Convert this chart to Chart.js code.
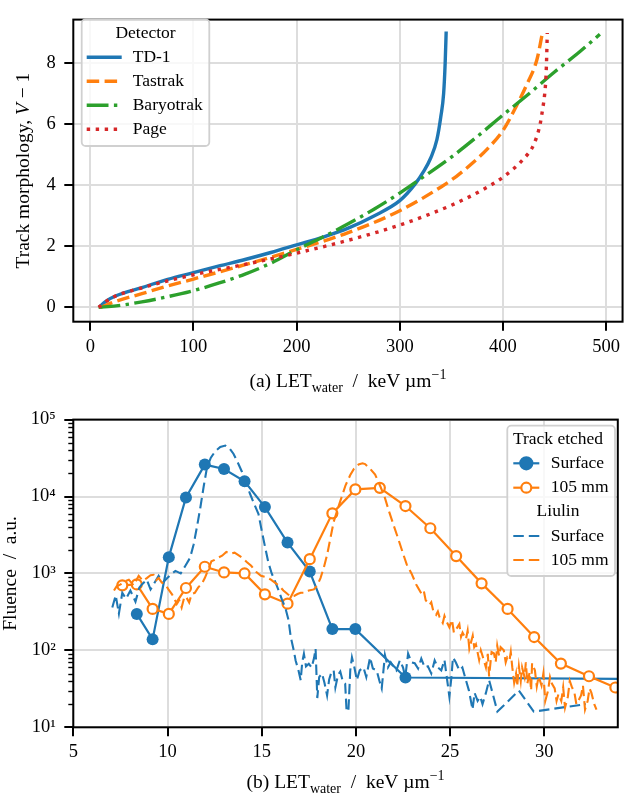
<!DOCTYPE html>
<html>
<head>
<meta charset="utf-8">
<script src="https://cdn.jsdelivr.net/npm/chart.js@4.4.1/dist/chart.umd.min.js"></script>
<style>
    html, body { margin: 0; padding: 0; background: #fff; }
    canvas { display: block; }
</style>
</head>
<body>
<canvas id="grafico_morfologia" width="625" height="400"></canvas>
<canvas id="grafico_fluencia" width="625" height="397"></canvas>
<script>
// ---- (a) Track morphology V-1 vs LET_water (keV/um) ----
const td1Let = [8.5, 15, 25, 50, 75, 100, 125, 150, 175, 200, 225, 250, 275, 300, 315, 323, 330, 336, 340, 342.5, 344, 345];
const td1V = [0, 0.2, 0.38, 0.65, 0.92, 1.14, 1.36, 1.57, 1.8, 2.05, 2.3, 2.6, 3.0, 3.5, 4.05, 4.45, 4.9, 5.5, 6.3, 7.0, 8.0, 9.05];

const tastrakLet = [10, 25, 50, 75, 100, 150, 200, 250, 300, 340, 355, 370, 385, 400, 413, 423, 433, 438];
const tastrakV = [0, 0.2, 0.45, 0.7, 0.93, 1.4, 1.9, 2.45, 3.17, 3.95, 4.3, 4.72, 5.2, 5.8, 6.6, 7.3, 8.13, 8.95];

const baryotrakLet = [8, 25, 50, 75, 100, 125, 150, 175, 200, 225, 250, 275, 300, 325, 350, 375, 400, 425, 450, 475, 494];
const baryotrakV = [0, 0.05, 0.18, 0.35, 0.55, 0.8, 1.09, 1.45, 1.89, 2.3, 2.74, 3.22, 3.75, 4.33, 4.93, 5.6, 6.31, 7.0, 7.72, 8.4, 8.96];

const pageLet = [8, 20, 50, 100, 150, 200, 250, 300, 350, 380, 400, 420, 430, 436, 438.5, 440.5, 441.8, 442.5, 443];
const pageV = [0, 0.3, 0.64, 1.07, 1.41, 1.78, 2.2, 2.7, 3.35, 3.85, 4.27, 4.87, 5.35, 6.0, 6.5, 7.0, 7.6, 8.3, 9.0];

// ---- (b) Fluence (a.u.) vs LET_water ----
// track etched detectors (solid lines with markers)
const etchedSurfaceLet = [8.37, 9.21, 10.07, 10.98, 11.98, 13.0, 14.09, 15.17, 16.37, 17.55, 18.75, 19.97, 22.63, 40];
const etchedSurfaceF = [298, 139, 1630, 9730, 26000, 22800, 15800, 7300, 2520, 1060, 189, 189, 44.4, 41.8];

const etched105Let = [7.6, 8.37, 9.21, 10.07, 10.98, 11.98, 13.0, 14.09, 15.17, 16.37, 17.55, 18.75, 19.97, 21.27, 22.63, 23.95, 25.32, 26.67, 28.05, 29.46, 30.88, 32.37, 33.77];
const etched105F = [700, 721, 346, 298, 647, 1222, 1031, 1000, 535, 405, 1535, 6040, 12370, 12970, 7520, 3870, 1680, 743, 346, 149, 67.3, 46.1, 32.9];

// Liulin spectra (dashed lines)
const liulinSurfaceLet = [7.07, 7.25, 7.42, 7.6, 7.8, 8.03, 8.3, 8.5, 8.64, 8.9, 9.1, 9.26, 9.53, 9.75, 10.0, 10.2, 10.42, 10.7, 10.95, 11.2, 11.39, 11.56, 11.74, 11.92, 12.09, 12.3, 12.53, 12.8, 13.07, 13.3, 13.5, 13.72, 13.95, 14.17, 14.39, 14.6, 14.83, 15.0, 15.18, 15.35, 15.53, 15.7, 15.9, 16.07, 16.25, 16.42, 16.54, 16.7, 16.8, 16.95, 17.07, 17.15, 17.24, 17.35, 17.5, 17.65, 17.78, 17.86, 17.95, 18.05, 18.2, 18.33, 18.47, 18.58, 18.7, 18.82, 18.91, 19.05, 19.17, 19.3, 19.43, 19.5, 19.6, 19.7, 19.79, 19.92, 20.05, 20.2, 20.4, 20.55, 20.75, 20.9, 21.1, 21.25, 21.37, 21.54, 21.7, 21.85, 21.98, 22.15, 22.33, 22.5, 22.62, 22.77, 22.95, 23.12, 23.3, 23.47, 23.65, 23.82, 24.0, 24.18, 24.35, 24.53, 24.7, 24.85, 24.96, 25.07, 25.15, 25.3, 25.49, 25.65, 25.84, 26.0, 26.19, 26.3, 26.46, 26.6, 26.72, 26.9, 27.07, 27.25, 27.51, 28.65, 29.44, 32.2];
const liulinSurfaceF = [360, 520, 300, 560, 470, 600, 430, 650, 720, 830, 620, 720, 930, 760, 880, 980, 1080, 1000, 1260, 1600, 2400, 4000, 7100, 13500, 23500, 32000, 38600, 44000, 46000, 42000, 36000, 28000, 21000, 15000, 10700, 8000, 5900, 3600, 2200, 1400, 1000, 800, 600, 460, 360, 250, 150, 100, 74, 55, 41, 70, 90, 62, 67, 60, 80, 105, 24, 45, 50, 38, 26, 42, 52, 55, 33, 48, 53, 40, 37, 17, 16, 55, 81, 60, 41, 55, 60, 45, 81, 58, 55, 40, 32, 87, 60, 70, 62, 55, 74, 60, 45, 91, 70, 68, 58, 78, 60, 62, 50, 74, 60, 55, 75, 40, 25, 45, 81, 70, 55, 60, 41, 30, 17, 28, 22, 25, 20, 28, 41, 28, 16, 30, 16, 20];

const liulin105Let = [7.16, 7.3, 7.51, 7.7, 7.95, 8.2, 8.47, 8.7, 8.9, 9.1, 9.26, 9.4, 9.53, 9.7, 9.88, 10.05, 10.23, 10.35, 10.49, 10.62, 10.75, 10.9, 11.0, 11.15, 11.28, 11.45, 11.63, 11.8, 11.98, 12.15, 12.33, 12.5, 12.68, 12.9, 13.12, 13.35, 13.56, 13.8, 14.0, 14.22, 14.44, 14.7, 14.96, 15.2, 15.49, 15.7, 15.93, 16.15, 16.37, 16.55, 16.72, 16.9, 17.07, 17.25, 17.5, 17.77, 17.95, 18.12, 18.3, 18.47, 18.65, 18.82, 19.0, 19.17, 19.45, 19.7, 19.9, 20.14, 20.35, 20.49, 20.75, 21.02, 21.3, 21.54, 21.75, 21.98, 22.25, 22.51, 22.7, 22.95, 23.2, 23.47, 23.6, 23.7, 23.91, 24.0, 24.1, 24.26, 24.35, 24.44, 24.61, 24.7, 24.8, 24.96, 25.1, 25.2, 25.31, 25.49, 25.58, 25.66, 25.84, 25.93, 26.02, 26.2, 26.28, 26.37, 26.54, 26.63, 26.72, 26.9, 27.0, 27.07, 27.2, 27.33, 27.42, 27.5, 27.6, 27.68, 27.85, 27.95, 28.03, 28.15, 28.22, 28.3, 28.4, 28.5, 28.56, 28.65, 28.75, 28.82, 28.95, 29.02, 29.1, 29.22, 29.3, 29.35, 29.5, 29.6, 29.7, 29.85, 29.95, 30.05, 30.2, 30.3, 30.4, 30.55, 30.65, 30.75, 30.9, 31.0, 31.1, 31.25, 31.35, 31.45, 31.6, 31.7, 31.8, 31.95, 32.05, 32.16, 32.3, 32.4, 32.5, 32.65, 32.77];
const liulin105F = [600, 680, 720, 780, 830, 700, 930, 800, 870, 950, 960, 820, 870, 760, 720, 620, 540, 480, 400, 450, 360, 500, 490, 420, 540, 560, 660, 720, 870, 1100, 1440, 1500, 1600, 1700, 1900, 1800, 1860, 1700, 1580, 1400, 1260, 1050, 930, 900, 830, 760, 690, 600, 540, 500, 510, 540, 560, 560, 600, 620, 700, 870, 1200, 1740, 2900, 4700, 6500, 8700, 14000, 19000, 23000, 26100, 27000, 26400, 23000, 19300, 13500, 9600, 6500, 4400, 2800, 1790, 1300, 1000, 720, 550, 600, 450, 390, 420, 330, 290, 320, 270, 227, 280, 240, 200, 250, 170, 186, 220, 150, 170, 140, 180, 105, 155, 110, 120, 75, 100, 85, 60, 90, 46, 95, 91, 70, 115, 85, 110, 100, 70, 81, 74, 95, 60, 38, 50, 34, 62, 40, 60, 45, 70, 37, 52, 30, 68, 55, 34, 46, 35, 50, 22, 30, 45, 37, 32, 22, 27, 22, 33, 18, 25, 40, 34, 28, 20, 22, 26, 35, 17, 22, 32, 28, 20, 17];

// log axis: decades that get a label, and multipliers for the minor ticks
const fluenceDecades = [10, 100, 1000, 10000, 100000];
const minorMultipliers = [2, 3, 4, 5, 6, 7, 8, 9];

// ---- estilo ----
const AZUL = '#1f77b4', LARANJA = '#ff7f0e', VERDE = '#2ca02c', VERMELHO = '#d62728';
const FONTE = "'Liberation Serif', 'DejaVu Serif', serif";
const GRADE = '#dddddd';
const SUP = ['\u2070', '\u00b9', '\u00b2', '\u00b3', '\u2074', '\u2075'];

const pares = (xs, ys) => xs.map((x, i) => ({ x: x, y: ys[i] }));

// draws pieces of text (normal / sub / superscript) one after the other
function textoComposto(ctx, partes, x, y, centrado) {
    let total = 0;
    partes.forEach(p => { ctx.font = p.font; total += ctx.measureText(p.t).width; });
    let cx = centrado ? x - total / 2 : x;
    partes.forEach(p => {
        ctx.font = p.font;
        ctx.fillText(p.t, cx, y + (p.dy || 0));
        cx += ctx.measureText(p.t).width;
    });
}

function tituloLet(prefixo) {
    return [
        { t: prefixo + ' LET', font: `19.5px ${FONTE}` },
        { t: 'water', font: `14px ${FONTE}`, dy: 4.5 },
        { t: '  /  keV \u00b5m', font: `19.5px ${FONTE}` },
        { t: '\u22121', font: `14px ${FONTE}`, dy: -8 }
    ];
}

// frame, axis titles, minor ticks and legend
const molduraPlugin = {
    id: 'moldura',
    afterDraw(chart, args, opts) {
        const ctx = chart.ctx;
        const a = chart.chartArea;
        ctx.save();

        // minor ticks on the log axis
        if (opts.minorTicks) {
            const sy = chart.scales.y;
            ctx.strokeStyle = '#000';
            ctx.lineWidth = 1.4;
            fluenceDecades.slice(0, -1).forEach(d => {
                minorMultipliers.forEach(m => {
                    const py = Math.round(sy.getPixelForValue(d * m)) + 0.5;
                    ctx.beginPath();
                    ctx.moveTo(a.left - 5, py);
                    ctx.lineTo(a.left, py);
                    ctx.stroke();
                });
            });
        }

        // frame
        ctx.strokeStyle = '#000';
        ctx.lineWidth = 2;
        ctx.strokeRect(a.left, a.top, a.right - a.left, a.bottom - a.top);

        // axis titles
        ctx.fillStyle = '#000';
        ctx.textBaseline = 'alphabetic';
        textoComposto(ctx, opts.tituloX, (a.left + a.right) / 2, opts.tituloXy, true);
        ctx.save();
        ctx.translate(opts.tituloYx, (a.top + a.bottom) / 2);
        ctx.rotate(-Math.PI / 2);
        textoComposto(ctx, opts.tituloY, 0, 0, true);
        ctx.restore();

        // legend
        const L = opts.legenda;
        const [x1, y1, x2, y2] = L.caixa;
        ctx.beginPath();
        ctx.roundRect(x1, y1, x2 - x1, y2 - y1, 4);
        ctx.fillStyle = 'rgba(255,255,255,0.8)';
        ctx.fill();
        ctx.strokeStyle = '#d0d0d0';
        ctx.lineWidth = 1.8;
        ctx.stroke();

        ctx.font = `17.5px ${FONTE}`;
        ctx.textBaseline = 'middle';
        L.itens.forEach(it => {
            if (it.titulo) {
                ctx.fillStyle = '#000';
                ctx.textAlign = 'center';
                ctx.fillText(it.titulo, L.centroTitulo, it.y);
                return;
            }
            const ds = chart.data.datasets[it.ds];
            ctx.strokeStyle = ds.borderColor;
            ctx.lineWidth = ds.borderWidth;
            ctx.lineCap = 'butt';
            ctx.setLineDash(ds.borderDash || []);
            ctx.beginPath();
            ctx.moveTo(L.linha[0], it.y);
            ctx.lineTo(L.linha[1], it.y);
            ctx.stroke();
            ctx.setLineDash([]);
            if (ds.pointRadius > 0) {
                ctx.beginPath();
                ctx.arc((L.linha[0] + L.linha[1]) / 2, it.y, ds.pointRadius, 0, Math.PI * 2);
                ctx.fillStyle = ds.pointBackgroundColor;
                ctx.fill();
                ctx.lineWidth = ds.pointBorderWidth;
                ctx.strokeStyle = ds.pointBorderColor;
                ctx.stroke();
            }
            ctx.fillStyle = '#000';
            ctx.textAlign = 'left';
            ctx.fillText(it.texto, L.textoX, it.y);
        });
        ctx.restore();
    }
};

const tickFont = { family: FONTE, size: 18.5 };

function curva(xs, ys, cor, tracejado, ordem) {
    return {
        data: pares(xs, ys),
        borderColor: cor,
        borderWidth: 3.4,
        borderDash: tracejado,
        borderCapStyle: 'butt',
        pointRadius: 0,
        cubicInterpolationMode: 'monotone',
        order: ordem
    };
}

// ---------- (a) ----------
new Chart(document.getElementById('grafico_morfologia').getContext('2d'), {
    type: 'line',
    data: {
        datasets: [
            curva(td1Let, td1V, AZUL, [], 4),
            curva(tastrakLet, tastrakV, LARANJA, [12.5, 5.4], 3),
            curva(baryotrakLet, baryotrakV, VERDE, [21.8, 5.4, 3.4, 5.4], 2),
            curva(pageLet, pageV, VERMELHO, [3.4, 5.6], 1)
        ]
    },
    options: {
        responsive: false,
        animation: false,
        devicePixelRatio: 1,
        layout: { padding: { left: 0, right: 2.3, top: 12.3, bottom: 0 } },
        plugins: {
            legend: { display: false },
            tooltip: { enabled: false },
            moldura: {
                tituloX: tituloLet('(a)'),
                tituloXy: 387,
                tituloY: [
                    { t: 'Track morphology, ', font: `19.5px ${FONTE}` },
                    { t: 'V', font: `italic 19.5px ${FONTE}` },
                    { t: ' \u2212 1', font: `19.5px ${FONTE}` }
                ],
                tituloYx: 29,
                legenda: {
                    caixa: [81.7, 19.3, 209.3, 146],
                    centroTitulo: 145.5,
                    linha: [86.7, 121.7],
                    textoX: 132.7,
                    itens: [
                        { titulo: 'Detector', y: 33.3 },
                        { ds: 0, texto: 'TD-1', y: 57.3 },
                        { ds: 1, texto: 'Tastrak', y: 81.2 },
                        { ds: 2, texto: 'Baryotrak', y: 105.3 },
                        { ds: 3, texto: 'Page', y: 129.2 }
                    ]
                }
            }
        },
        scales: {
            x: {
                type: 'linear',
                min: -16.5,
                max: 516,
                afterFit: s => { s.height = 78.3; },
                border: { display: false },
                grid: { color: GRADE, lineWidth: 2, tickColor: '#000', tickWidth: 2, tickLength: 9 },
                ticks: { stepSize: 100, includeBounds: false, color: '#000', font: tickFont, padding: 5, maxRotation: 0 }
            },
            y: {
                type: 'linear',
                min: -0.47,
                max: 9.44,
                afterFit: s => { s.width = 73.3; },
                border: { display: false },
                grid: { color: GRADE, lineWidth: 2, tickColor: '#000', tickWidth: 2, tickLength: 9 },
                ticks: { stepSize: 2, includeBounds: false, color: '#000', font: tickFont, padding: 8.5 }
            }
        }
    },
    plugins: [molduraPlugin]
});

// ---------- (b) ----------
const ehDecada = v => fluenceDecades.includes(v);

new Chart(document.getElementById('grafico_fluencia').getContext('2d'), {
    type: 'line',
    data: {
        datasets: [
            {   // Liulin 105 mm
                data: pares(liulin105Let, liulin105F),
                borderColor: LARANJA, borderWidth: 2.1, borderDash: [10.5, 5], borderCapStyle: 'butt',
                pointRadius: 0, order: 1
            },
            {   // Liulin surface
                data: pares(liulinSurfaceLet, liulinSurfaceF),
                borderColor: AZUL, borderWidth: 2.1, borderDash: [10.5, 5], borderCapStyle: 'butt',
                pointRadius: 0, order: 2
            },
            {   // track etched 105 mm
                data: pares(etched105Let, etched105F),
                borderColor: LARANJA, borderWidth: 2.2,
                pointRadius: 5, pointBackgroundColor: '#fff', pointBorderColor: LARANJA, pointBorderWidth: 2.2,
                order: 3
            },
            {   // track etched surface
                data: pares(etchedSurfaceLet, etchedSurfaceF),
                borderColor: AZUL, borderWidth: 2.2,
                pointRadius: 6, pointBackgroundColor: AZUL, pointBorderColor: AZUL, pointBorderWidth: 0,
                order: 4
            }
        ]
    },
    options: {
        responsive: false,
        animation: false,
        devicePixelRatio: 1,
        layout: { padding: { left: 0, right: 2.3, top: 18.3, bottom: 0 } },
        plugins: {
            legend: { display: false },
            tooltip: { enabled: false },
            moldura: {
                minorTicks: true,
                tituloX: tituloLet('(b)'),
                tituloXy: 388,
                tituloY: [{ t: 'Fluence  /  a.u.', font: `19.5px ${FONTE}` }],
                tituloYx: 15.5,
                legenda: {
                    caixa: [507.3, 25.7, 615, 176],
                    centroTitulo: 558,
                    linha: [513.3, 539.3],
                    textoX: 550.7,
                    itens: [
                        { titulo: 'Track etched', y: 39.3 },
                        { ds: 3, texto: 'Surface', y: 63.3 },
                        { ds: 2, texto: '105 mm', y: 87.7 },
                        { titulo: 'Liulin', y: 111.7 },
                        { ds: 1, texto: 'Surface', y: 136 },
                        { ds: 0, texto: '105 mm', y: 160 }
                    ]
                }
            }
        },
        scales: {
            x: {
                type: 'linear',
                min: 5,
                max: 33.9,
                afterFit: s => { s.height = 69.7; },
                border: { display: false },
                grid: { color: GRADE, lineWidth: 2, tickColor: '#000', tickWidth: 2, tickLength: 9 },
                ticks: { stepSize: 5, includeBounds: false, color: '#000', font: tickFont, padding: 5, maxRotation: 0 }
            },
            y: {
                type: 'logarithmic',
                min: 10,
                max: 100000,
                afterFit: s => { s.width = 73.3; },
                afterBuildTicks: s => { s.ticks = fluenceDecades.map(v => ({ value: v })); },
                border: { display: false },
                grid: {
                    color: ctx => (ctx.tick && ehDecada(ctx.tick.value)) ? GRADE : 'rgba(0,0,0,0)',
                    lineWidth: 2, tickColor: '#000', tickWidth: 2, tickLength: 9
                },
                ticks: {
                    autoSkip: false, color: '#000', font: tickFont, padding: 8.5,
                    callback: v => '10' + SUP[Math.round(Math.log10(v))]
                }
            }
        }
    },
    plugins: [molduraPlugin]
});
</script>
</body>
</html>
